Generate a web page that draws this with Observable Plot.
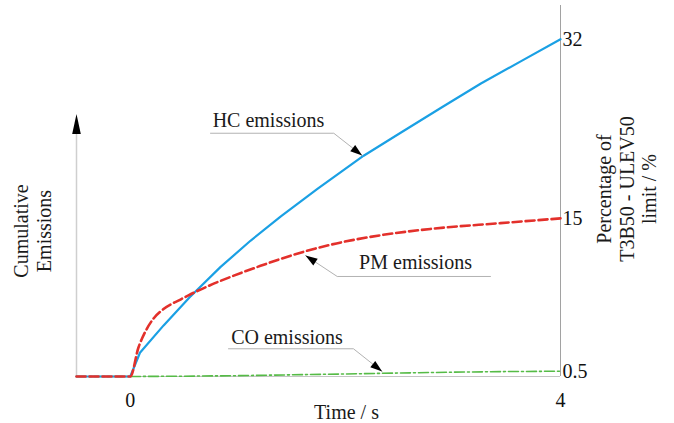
<!DOCTYPE html>
<html>
<head>
<meta charset="utf-8">
<script src="https://cdn.jsdelivr.net/npm/d3@7"></script>
<script src="https://cdn.jsdelivr.net/npm/@observablehq/plot@0.6"></script>
<style>
  html, body { margin: 0; padding: 0; background: #ffffff; }
  #chart { width: 674px; height: 423px; }
  #chart svg { display: block; }
</style>
</head>
<body>
<div id="chart"></div>
<script>
// Cumulative emissions after start-up (time in s, value in % of the T3B50 - ULEV50 limit)
const hcTime  = [-0.5, 0, 0.09, 0.31, 0.55, 0.84, 1.12, 1.40, 1.74, 2.17, 2.51, 2.89, 3.26, 3.63, 4.0];
const hcValue = [0, 0, 2.25, 4.85, 7.5, 10.4, 12.9, 15.2, 17.8, 20.95, 23.1, 25.5, 27.8, 29.9, 32];

const pmTime  = [-0.5, 0, 0.076, 0.142, 0.216, 0.309, 0.467, 0.541, 0.718, 0.932, 1.211, 1.397, 1.583, 1.862, 2.326, 2.791, 3.442, 4.0];
const pmValue = [0, 0, 2.75, 4.3, 5.5, 6.4, 7.3, 7.7, 8.55, 9.45, 10.5, 11.15, 11.75, 12.5, 13.4, 14.0, 14.55, 15];

const coTime  = [-0.5, 0, 0.5, 1.0, 1.5, 2.0, 2.5, 3.0, 3.5, 4.0];
const coValue = [0, 0, 0.03, 0.08, 0.16, 0.24, 0.33, 0.41, 0.47, 0.5];

// Axis ticks
const xTicks = [0, 4];
const xTickLabels = ["0", "4"];
const yTicks = [0.5, 15, 32];
const yTickLabels = ["0.5", "15", "32"];

// Titles
const xTitle = "Time / s";
const leftTitle = "Cumulative\nEmissions";
const rightTitle = "Percentage of\nT3B50 - ULEV50\nlimit / %";

// Callouts: label position and leader path (time, value); the last vertex is the arrow tip
const calloutNames = ["HC emissions", "PM emissions", "CO emissions"];
const calloutTextTime  = [1.285, 2.652, 1.457];
const calloutTextValue = [23.65, 10.17, 3.13];
const leaderTime  = [[0.746, 1.892, 2.156], [3.349, 1.924, 1.629], [0.913, 2.075, 2.342]];
const leaderValue = [[23.08, 23.08, 20.97], [9.49, 9.49, 11.48], [2.63, 2.63, 0.47]];

// ---- layout ----
const W = 674, H = 423;
const margin = {top: 5, right: 114, bottom: 47, left: 76};
const xDomain = [-0.5, 4];
const yDomain = [0, 35.2];
const arrowAxisTop = 24.9;

const serif = "'Liberation Serif', 'Times New Roman', serif";

const toRows = (ts, vs, series) => ts.map((t, i) => ({t, v: vs[i], series}));
const hcRows = toRows(hcTime, hcValue, "HC");
const pmRows = toRows(pmTime, pmValue, "PM");
const coRows = toRows(coTime, coValue, "CO");

const labelRows = calloutNames.map((name, i) => ({name, t: calloutTextTime[i], v: calloutTextValue[i]}));
const leaderRows = leaderTime.flatMap((ts, k) => ts.map((t, j) => ({k, t, v: leaderValue[k][j]})));

// Pixel-space scales, used to orient the arrowheads along their leaders
const xPix = Plot.scale({x: {domain: xDomain, range: [margin.left, W - margin.right]}});
const yPix = Plot.scale({y: {domain: yDomain, range: [H - margin.bottom, margin.top]}});

const headRows = leaderTime.map((ts, k) => {
  const n = ts.length;
  const x0 = xPix.apply(ts[n - 2]), y0 = yPix.apply(leaderValue[k][n - 2]);
  const x1 = xPix.apply(ts[n - 1]), y1 = yPix.apply(leaderValue[k][n - 1]);
  const angle = Math.atan2(x1 - x0, -(y1 - y0)) * 180 / Math.PI;
  return {t: ts[n - 1], v: leaderValue[k][n - 1], angle};
});

// Filled triangular arrowhead; tip at the anchor point
const triangleHead = (halfWidth) => ({
  draw(context, l) {
    context.moveTo(0, -l);
    context.lineTo(-halfWidth, 0);
    context.lineTo(halfWidth, 0);
    context.closePath();
  }
});

const chart = Plot.plot({
  width: W,
  height: H,
  marginTop: margin.top,
  marginRight: margin.right,
  marginBottom: margin.bottom,
  marginLeft: margin.left,
  style: {fontFamily: serif, fontSize: "20px", color: "#111", background: "#fff", overflow: "visible"},
  x: {domain: xDomain},
  y: {domain: yDomain},
  marks: [
    // baseline and axis lines
    Plot.ruleY([0], {x1: xDomain[0], x2: xDomain[1], stroke: "#c4c4c4", strokeWidth: 1.2}),
    Plot.ruleX([xDomain[1]], {y1: yDomain[0], y2: yDomain[1], stroke: "#a2a2a2", strokeWidth: 1}),
    Plot.ruleX([xDomain[0]], {y1: 0, y2: arrowAxisTop - 1.5, stroke: "#cfcfcf", strokeWidth: 1.5}),
    Plot.vector([{t: xDomain[0], v: arrowAxisTop}], {
      x: "t", y: "v", length: 20, rotate: 0, anchor: "end",
      shape: triangleHead(4.3), fill: "#000", stroke: "none"
    }),

    Plot.axisX({ticks: xTicks, tickFormat: (d) => xTickLabels[xTicks.indexOf(d)], tickSize: 0, tickPadding: 16, label: null, fontSize: 20, fontFamily: serif}),
    Plot.axisY({anchor: "right", ticks: yTicks, tickFormat: (d) => yTickLabels[yTicks.indexOf(d)], tickSize: 0, tickPadding: 2, label: null, fontSize: 20, fontFamily: serif}),

    // emission curves
    Plot.line(coRows, {x: "t", y: "v", stroke: "#55bb46", strokeWidth: 1.6, strokeDasharray: "10,3,2,3"}),
    Plot.line(hcRows, {x: "t", y: "v", stroke: "#1aa0e4", strokeWidth: 2.2, strokeLinejoin: "round"}),
    Plot.line(pmRows, {x: "t", y: "v", stroke: "#e3302b", strokeWidth: 2.6, strokeDasharray: "9,4", curve: "monotone-x"}),

    // callout leaders and arrowheads
    Plot.line(leaderRows, {x: "t", y: "v", z: "k", stroke: "#b2b2b2", strokeWidth: 1}),
    Plot.vector(headRows, {
      x: "t", y: "v", rotate: "angle", length: 12, anchor: "end",
      shape: triangleHead(4), fill: "#000", stroke: "none"
    }),
    Plot.text(labelRows, {x: "t", y: "v", text: "name", textAnchor: "middle", lineAnchor: "bottom", fontSize: 20, fontFamily: serif, fill: "#1a1a1a"}),

    // titles
    Plot.text([xTitle], {frameAnchor: "bottom", dx: 28, dy: 42, textAnchor: "middle", lineAnchor: "bottom", fontSize: 20, fontFamily: serif, fill: "#1a1a1a"}),
    Plot.text([leftTitle], {frameAnchor: "left", dx: -44, dy: 40, rotate: -90, textAnchor: "middle", lineAnchor: "middle", lineHeight: 1.12, fontSize: 20, fontFamily: serif, fill: "#1a1a1a"}),
    Plot.text([rightTitle], {frameAnchor: "right", dx: 66, dy: -2, rotate: -90, textAnchor: "middle", lineAnchor: "middle", lineHeight: 1.12, fontSize: 20, fontFamily: serif, fill: "#1a1a1a"})
  ]
});

document.getElementById("chart").appendChild(chart);
</script>
</body>
</html>
